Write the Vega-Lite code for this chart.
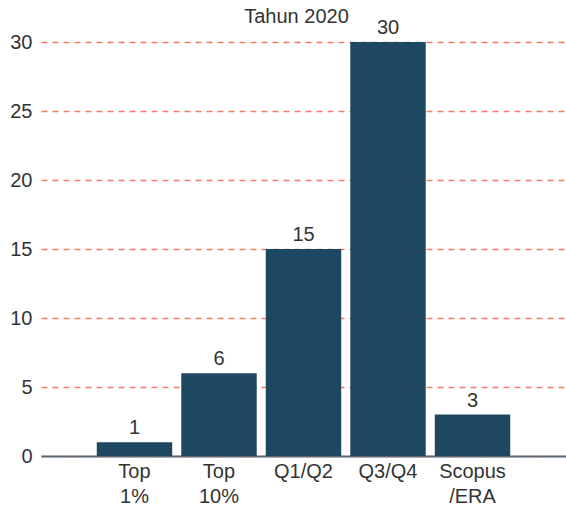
{
  "$schema": "https://vega.github.io/schema/vega-lite/v6.json",
  "autosize": "none",
  "width": 525,
  "height": 414,
  "padding": {"left": 41, "top": 42, "right": 0, "bottom": 50},
  "background": "white",
  "config": {
    "view": {"stroke": null},
    "font": "Liberation Sans"
  },
  "title": {
    "text": "Tahun 2020",
    "anchor": "middle",
    "fontSize": 20,
    "fontWeight": "normal",
    "color": "#333333",
    "offset": -9,
    "dx": -7
  },
  "data": {
    "values": [
      {"category": "Top 1%", "count": 1},
      {"category": "Top 10%", "count": 6},
      {"category": "Q1/Q2", "count": 15},
      {"category": "Q3/Q4", "count": 30},
      {"category": "Scopus /ERA", "count": 3}
    ]
  },
  "encoding": {
    "x": {
      "field": "category",
      "type": "nominal",
      "sort": null,
      "scale": {"paddingInner": 0.107, "paddingOuter": 0.66},
      "axis": {
        "title": null,
        "labelAngle": 0,
        "labelExpr": "split(datum.label, ' ')",
        "labelFontSize": 20,
        "labelColor": "#333333",
        "labelLineHeight": 25,
        "labelPadding": 5,
        "ticks": false,
        "domainColor": "#5c6b75",
        "domainWidth": 2,
        "grid": false
      }
    },
    "y": {
      "field": "count",
      "type": "quantitative",
      "scale": {"domain": [0, 30], "nice": false},
      "axis": {
        "title": null,
        "values": [0, 5, 10, 15, 20, 25, 30],
        "labelFontSize": 20,
        "labelColor": "#333333",
        "labelPadding": 9,
        "ticks": false,
        "domain": false,
        "grid": true,
        "gridColor": "#f27c68",
        "gridDash": [6, 5],
        "gridWidth": 1.4
      }
    }
  },
  "layer": [
    {"mark": {"type": "bar", "color": "#1e4862"}},
    {
      "mark": {"type": "text", "baseline": "alphabetic", "dy": -8, "fontSize": 20, "color": "#333333"},
      "encoding": {"text": {"field": "count", "type": "quantitative"}}
    }
  ]
}
